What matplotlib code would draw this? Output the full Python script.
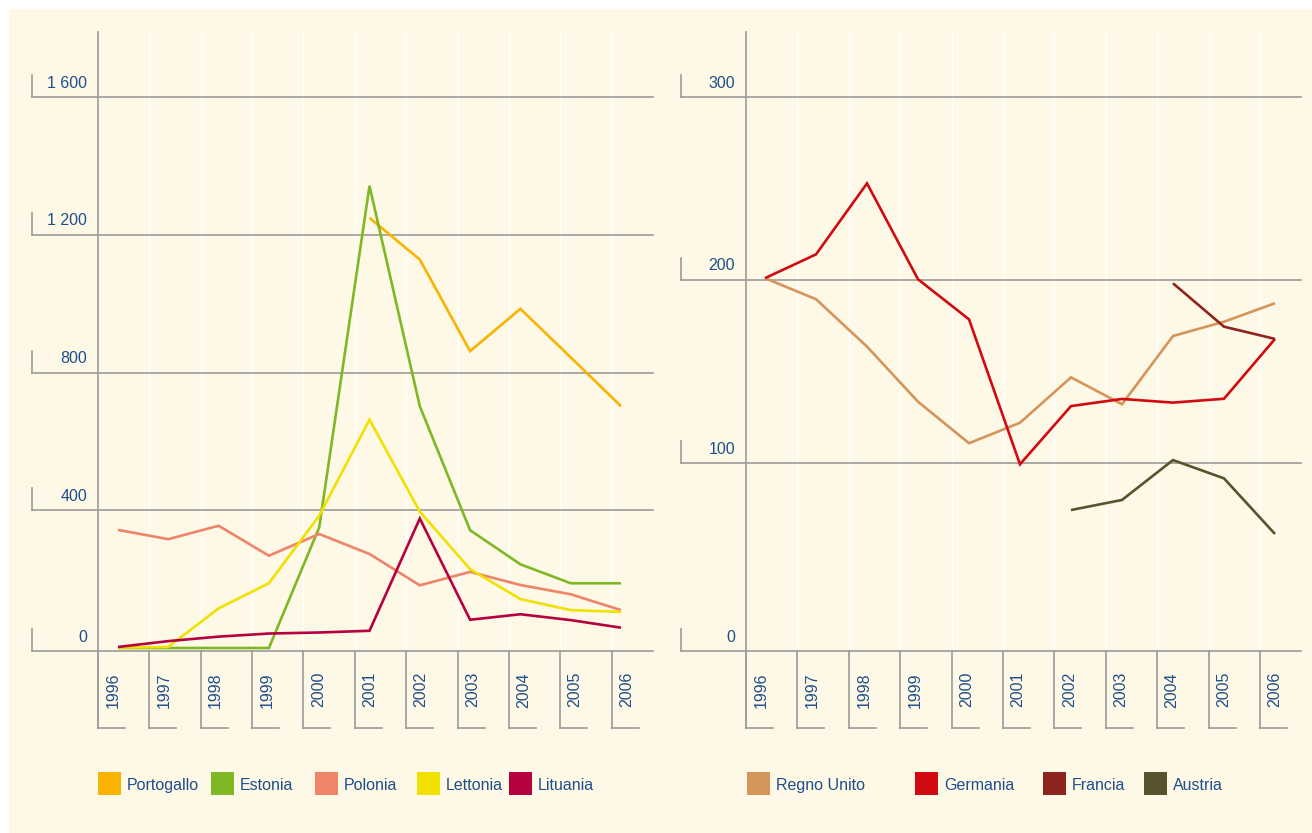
import numpy as np
import matplotlib
matplotlib.use("Agg")
import matplotlib.pyplot as plt
from matplotlib.lines import Line2D
from matplotlib.patches import Rectangle
from matplotlib.transforms import blended_transform_factory as blend

plt.rcParams['font.family'] = ['Liberation Sans', 'DejaVu Sans']

# ---------------- data ----------------
years = list(range(1996, 2007))
year_labels = [str(y) for y in years]
nan = np.nan

left_names = ["Portogallo", "Estonia", "Polonia", "Lettonia", "Lituania"]
left_colors = ["#F9B300", "#7FB825", "#EF8469", "#F0E100", "#B5013F"]
portogallo = [nan, nan, nan, nan, nan, 1249, 1128, 862, 985, 844, 702]
estonia    = [0, 0, 0, 0, 350, 1342, 702, 342, 243, 188, 188]
polonia    = [343, 316, 355, 268, 331, 273, 182, 221, 183, 156, 110]
lettonia   = [1, 3, 115, 188, 384, 663, 396, 229, 142, 110, 105]
lituania   = [3, 20, 33, 42, 45, 50, 376, 82, 98, 81, 59]
left_series = [portogallo, estonia, polonia, lettonia, lituania]
left_ticks = [0, 400, 800, 1200, 1600]
left_ticklabels = ["0", "400", "800", "1 200", "1 600"]

right_names = ["Regno Unito", "Germania", "Francia", "Austria"]
right_colors = ["#D4955A", "#D10A11", "#8E241E", "#58522F"]
regno_unito = [201, 189.5, 163.6, 133.5, 110.8, 122.0, 146.8, 132.1, 169.4, 177.2, 187.3]
germania    = [201, 214.0, 252.8, 200.4, 178.5, 99.3, 131.1, 135.0, 133.0, 135.1, 167.8]
francia     = [nan, nan, nan, nan, nan, nan, nan, nan, 198.2, 174.5, 167.8]
austria     = [nan, nan, nan, nan, nan, nan, 74.3, 79.8, 101.6, 91.6, 61.2]
right_series = [regno_unito, germania, francia, austria]
right_ticks = [0, 100, 200, 300]
right_ticklabels = ["0", "100", "200", "300"]

# ---------------- layout ----------------
W, H = 1312, 833
fig = plt.figure(figsize=(W / 100, H / 100), dpi=100)
fig.patch.set_facecolor("white")
CREAM = "#FEF8E7"
GRAY = "#9B9B9B"
BLUE = "#1F4F8A"

def fx(x):
    return x / W

def fy(y):
    return 1 - y / H

fig.patches.append(Rectangle((fx(9), 0), 1 - fx(9), fy(9), transform=fig.transFigure,
                             facecolor=CREAM, edgecolor="none", zorder=-5))

BASE = 651
TOP = 32
FOOT = 728

def panel(axis_x, right_x, grid_left, first_x, step, col_step, zero_px, ymax_tick, ymax_px,
          series, colors, ticks, ticklabels):
    ppu = (zero_px - ymax_px) / ymax_tick          # pixels per unit
    ax = fig.add_axes([fx(axis_x), fy(BASE), fx(right_x) - fx(axis_x), (BASE - TOP) / H])
    ax.set_xlim(years[0] - (first_x - axis_x) / step, years[0] + (right_x - first_x) / step)
    ax.set_ylim(-(BASE - zero_px) / ppu, (zero_px - TOP) / ppu)
    ax.axis("off")
    ax.patch.set_visible(False)
    trb = blend(fig.transFigure, ax.transData)
    trf = fig.transFigure
    kw = dict(color=GRAY, lw=1.2, clip_on=False, zorder=1)

    cols = [axis_x + col_step * i for i in range(len(years))]
    for i, c in enumerate(cols):
        if i > 0:
            ax.add_line(Line2D([fx(c), fx(c)], [fy(BASE), fy(TOP)], transform=trf,
                               color="white", lw=1.0, clip_on=False, zorder=0.5))
    ax.add_line(Line2D([fx(axis_x), fx(axis_x)], [fy(FOOT), fy(TOP)], transform=trf, **kw))
    for t, lab in zip(ticks, ticklabels):
        if t == 0:
            ax.add_line(Line2D([fx(grid_left), fx(right_x)], [fy(BASE)] * 2, transform=trf, **kw))
            ax.add_line(Line2D([fx(grid_left)] * 2, [fy(BASE), fy(BASE - 22)], transform=trf, **kw))
            ax.text(fx(axis_x - 11), fy(BASE - 14), lab, transform=trf,
                    ha="right", va="center", fontsize=11.5, color=BLUE)
        else:
            ax.add_line(Line2D([fx(grid_left), fx(right_x)], [t, t], transform=trb, **kw))
            ax.add_line(Line2D([fx(grid_left), fx(grid_left)], [t, t + 22 / ppu], transform=trb, **kw))
            ax.text(fx(axis_x - 11), t + 14 / ppu, lab, transform=trb,
                    ha="right", va="center", fontsize=11.5, color=BLUE)
    for c, lab in zip(cols, year_labels):
        ax.add_line(Line2D([fx(c), fx(c)], [fy(BASE), fy(FOOT)], transform=trf, **kw))
        ax.add_line(Line2D([fx(c), fx(c + 27)], [fy(FOOT), fy(FOOT)], transform=trf, **kw))
        ax.text(fx(c + 15), fy(672), lab, transform=trf, rotation=90,
                ha="center", va="top", fontsize=11.5, color=BLUE)
    for vals, col in zip(series, colors):
        ax.plot(years, vals, color=col, lw=1.9, solid_joinstyle="miter",
                solid_capstyle="butt", zorder=3, clip_on=False)
    return ax

panel(98, 653, 32, 118, 50.3, 51.36, 648, 1600, 97,
      left_series, left_colors, left_ticks, left_ticklabels)
panel(746, 1301, 681, 765, 51.0, 51.4, 646, 300, 97,
      right_series, right_colors, right_ticks, right_ticklabels)

def legend(items, colors, xs):
    for (name, col, x) in zip(items, colors, xs):
        fig.patches.append(Rectangle((fx(x), fy(795)), 23 / W, 23 / H, transform=fig.transFigure,
                                     facecolor=col, edgecolor="none"))
        fig.text(fx(x + 29), fy(790), name, ha="left", va="baseline", fontsize=11.5, color=BLUE)

legend(left_names, left_colors, [98, 211, 315, 417, 509])
legend(right_names, right_colors, [747, 915, 1043, 1144])

fig.savefig("out.png", dpi=100, facecolor=fig.get_facecolor())
